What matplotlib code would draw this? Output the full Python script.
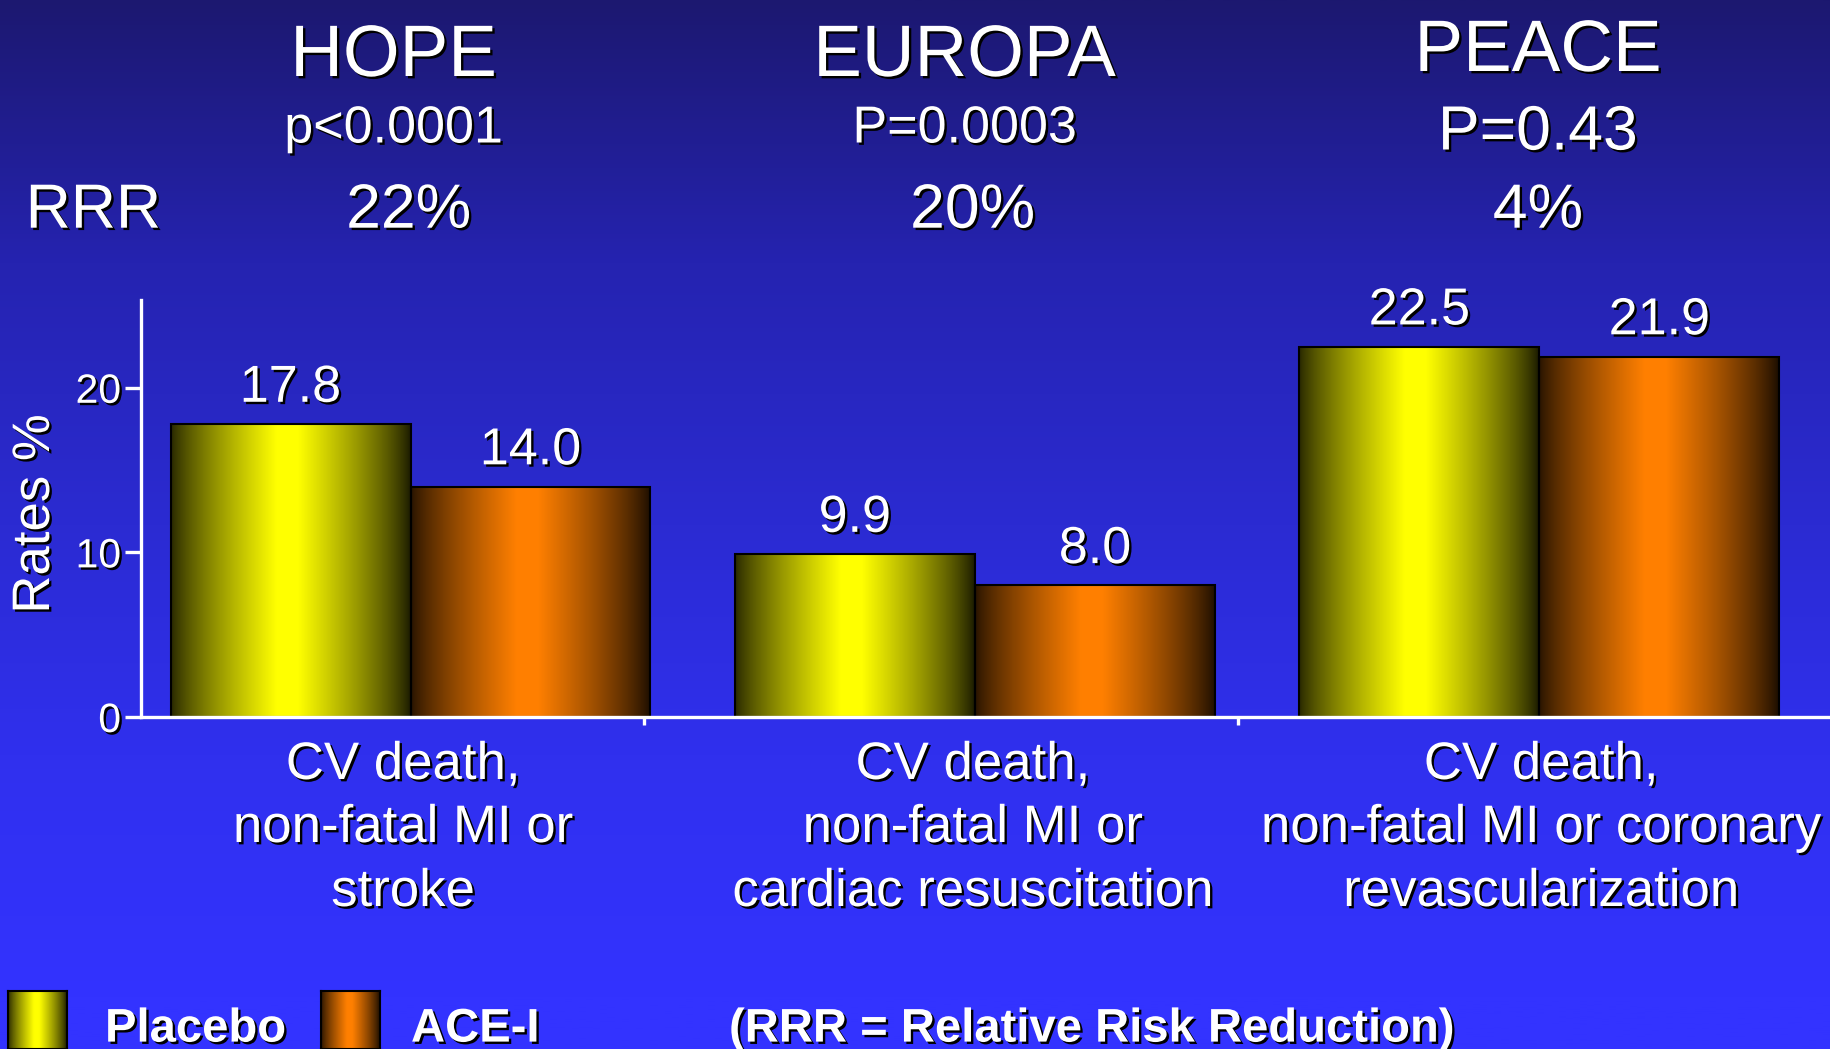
import numpy as np
import matplotlib
matplotlib.use("Agg")
import matplotlib.pyplot as plt
import matplotlib.patheffects as pe
from matplotlib import font_manager
from matplotlib.font_manager import FontProperties

# ---------------- data ----------------
trials = ["HOPE", "EUROPA", "PEACE"]
p_values = ["p<0.0001", "P=0.0003", "P=0.43"]
rrr_values = ["22%", "20%", "4%"]
outcomes = [
    ["CV death,", "non-fatal MI or", "stroke"],
    ["CV death,", "non-fatal MI or", "cardiac resuscitation"],
    ["CV death,", "non-fatal MI or coronary", "revascularization"],
]
placebo = [17.8, 9.9, 22.5]
ace_i = [14.0, 8.0, 21.9]
y_ticks = [0, 10, 20]
series_names = ["Placebo", "ACE-I"]
footnote = "(RRR = Relative Risk Reduction)"

# ---------------- figure ----------------
W, H = 1831, 1049
fig = plt.figure(figsize=(W / 100, H / 100), dpi=100)
plt.rcParams["font.family"] = ["Liberation Sans", "DejaVu Sans"]


def fx(x):
    return x / W


def fy(y):
    return 1 - y / H


shadow = [pe.withSimplePatchShadow(offset=(1.7, -1.7), shadow_rgbFace="black", alpha=1.0)]

# vertical background gradient (dark navy at top -> bright blue at bottom)
bg = fig.add_axes([0, 0, 1, 1], zorder=-10)
stops = np.array([0.0, 0.25, 0.5, 0.72, 0.95, 1.0])
cols = np.array([
    [28, 24, 112],
    [37, 35, 176],
    [43, 43, 210],
    [48, 48, 238],
    [51, 51, 255],
    [51, 51, 255],
]) / 255.0
yy = np.linspace(0, 1, 512)
grad = np.stack([np.interp(yy, stops, cols[:, k]) for k in range(3)], axis=-1)
bg.imshow(grad[:, None, :], aspect="auto", extent=[0, 1, 1, 0])
bg.set_xlim(0, 1)
bg.set_ylim(1, 0)
bg.axis("off")


def shade_profile(n=256):
    t = np.linspace(0, 1, n)
    left = 0.15 + 0.85 * np.clip(t / 0.44, 0, 1) ** 0.8
    right = 0.10 + 0.90 * np.clip((1 - t) / 0.47, 0, 1) ** 0.8
    return np.minimum(left, right)


def cylinder_image(base_rgb):
    prof = shade_profile()
    img = np.array(base_rgb)[None, None, :] * prof[None, :, None]
    return np.clip(img, 0, 1)


YELLOW = (1.0, 1.0, 0.0)
ORANGE = (1.0, 0.5, 0.0)

# ---------------- main axes ----------------
ax_left = 141.3
ax = fig.add_axes([fx(ax_left), fy(717), 1 - fx(ax_left), (717 - 300) / H])
ax.set_facecolor("none")

spacing = 564.5
mid_px = 975.0
xlim = ((ax_left - mid_px) / spacing + 1, (W - mid_px) / spacing + 1)
ylim = (0, (717 - 300) / 16.46)

x = np.arange(len(trials))
w = 240 / spacing
bars_p = ax.bar(x - w / 2, placebo, width=w, facecolor="none",
                edgecolor="black", linewidth=1.5, zorder=3)
bars_a = ax.bar(x + w / 2, ace_i, width=w, facecolor="none",
                edgecolor="black", linewidth=1.5, zorder=3)

for bars, base in ((bars_p, YELLOW), (bars_a, ORANGE)):
    img = cylinder_image(base)
    for rect in bars:
        x0, y0 = rect.get_x(), rect.get_y()
        im = ax.imshow(img, aspect="auto", interpolation="bilinear",
                       extent=[x0, x0 + rect.get_width(), y0, y0 + rect.get_height()],
                       zorder=2)
        im.set_clip_path(rect)

for bars, vals in ((bars_p, placebo), (bars_a, ace_i)):
    for rect, v in zip(bars, vals):
        ax.annotate(f"{v:.1f}", (rect.get_x() + rect.get_width() / 2, v),
                    xytext=(0, 16), textcoords="offset points",
                    ha="center", va="baseline", fontsize=37.5, color="white",
                    path_effects=shadow, zorder=6)

ax.set_xlim(*xlim)
ax.set_ylim(*ylim)

for side in ("top", "right"):
    ax.spines[side].set_visible(False)
for side in ("left", "bottom"):
    ax.spines[side].set_color("white")
    ax.spines[side].set_linewidth(2.4)
    ax.spines[side].set_zorder(5)

ax.set_yticks(y_ticks)
ax.set_yticklabels([str(t) for t in y_ticks])
ax.tick_params(axis="y", colors="white", direction="out", length=11.5, width=2.4,
               labelsize=29.5, pad=3)
ax.set_xticks([0.413, 1.466])
ax.set_xticklabels([])
ax.tick_params(axis="x", colors="white", direction="out", length=6, width=2.4)
for lbl in ax.get_yticklabels():
    lbl.set_path_effects(shadow)

fig.text(fx(35), fy(514), "Rates %", rotation=90, ha="center", va="center",
         fontsize=38, color="white", path_effects=shadow)

# ---------------- header texts ----------------
head_x = [393.5, 964.5, 1538]
for name, xc in zip(trials, head_x):
    base_y = 71 if name == "PEACE" else 76
    fig.text(fx(xc), fy(base_y), name, ha="center", va="baseline",
             fontsize=52.5, color="white", path_effects=shadow)

for pv, xc in zip(p_values, head_x):
    big = pv == "P=0.43"
    fig.text(fx(xc), fy(149.5 if big else 142.5), pv, ha="center", va="baseline",
             fontsize=45 if big else 37.5, color="white", path_effects=shadow)

fig.text(fx(25.7), fy(227.7), "RRR", ha="left", va="baseline",
         fontsize=45, color="white", path_effects=shadow)
rrr_x = [408.7, 972.7, 1538]
for r, xc in zip(rrr_values, rrr_x):
    fig.text(fx(xc), fy(227.7), r, ha="center", va="baseline",
             fontsize=45, color="white", path_effects=shadow)

# ---------------- category labels ----------------
cat_x = [403, 972.7, 1541]
line_y = [779, 842, 906]
for lines, xc in zip(outcomes, cat_x):
    for s, yb in zip(lines, line_y):
        fig.text(fx(xc), fy(yb), s, ha="center", va="baseline",
                 fontsize=38, color="white", path_effects=shadow)

# ---------------- legend row ----------------
def has_font(name):
    try:
        font_manager.findfont(FontProperties(family=name, weight="bold"),
                              fallback_to_default=False)
        return True
    except Exception:
        return False


if has_font("Liberation Sans Narrow"):
    leg_font = dict(family=["Liberation Sans Narrow", "Liberation Sans"], fontsize=40)
else:
    leg_font = dict(family=["Liberation Sans", "DejaVu Sans"], fontsize=34)

swatch_x = [8, 321]
label_x = [105, 411]
for name, base, sx, lx in zip(series_names, (YELLOW, ORANGE), swatch_x, label_x):
    sax = fig.add_axes([fx(sx), 0, 59 / W, (H - 991) / H])
    sax.imshow(cylinder_image(base), aspect="auto", interpolation="bilinear",
               extent=[0, 1, 0, 1])
    sax.set_xlim(0, 1)
    sax.set_ylim(0, 1)
    sax.set_xticks([])
    sax.set_yticks([])
    for sp in sax.spines.values():
        sp.set_color("black")
        sp.set_linewidth(1.5)
    fig.text(fx(lx), fy(1041.6), name, ha="left", va="baseline", weight="bold",
             color="white", path_effects=shadow, **leg_font)

fig.text(fx(729), fy(1041.6), footnote, ha="left", va="baseline", weight="bold",
         color="white", path_effects=shadow, **leg_font)

fig.savefig("out.png", dpi=100)
